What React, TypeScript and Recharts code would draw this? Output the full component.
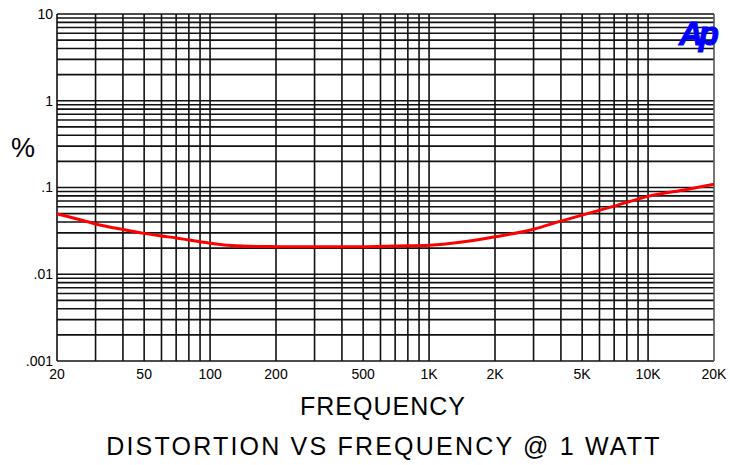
import { LineChart, Line, XAxis, YAxis, ReferenceLine } from "recharts";

// frequency (Hz) vs THD (%)
const freqs = [20, 25, 30, 40, 50, 60, 70, 80, 100, 120, 150, 200, 300, 500, 700, 1000, 1500, 2000, 3000, 4000, 5000, 7000, 10000, 15000, 20000];
const thd = [0.0495, 0.043, 0.038, 0.0328, 0.0296, 0.0276, 0.0262, 0.0248, 0.0228, 0.0216, 0.021, 0.0208, 0.0207, 0.0208, 0.0212, 0.0216, 0.024, 0.027, 0.033, 0.041, 0.048, 0.061, 0.079, 0.095, 0.109];

const xTicks = [20, 50, 100, 200, 500, 1000, 2000, 5000, 10000, 20000];
const xTickLabels = ["20", "50", "100", "200", "500", "1K", "2K", "5K", "10K", "20K"];
const yTicks = [0.001, 0.01, 0.1, 1, 10];
const yTickLabels = [".001", ".01", ".1", "1", "10"];

const xGrid = [20, 30, 40, 50, 60, 70, 80, 90, 100, 200, 300, 400, 500, 600, 700, 800, 900, 1000, 2000, 3000, 4000, 5000, 6000, 7000, 8000, 9000, 10000, 20000];
const yGrid = [
  0.001, 0.002, 0.003, 0.004, 0.005, 0.006, 0.007, 0.008, 0.009,
  0.01, 0.02, 0.03, 0.04, 0.05, 0.06, 0.07, 0.08, 0.09,
  0.1, 0.2, 0.3, 0.4, 0.5, 0.6, 0.7, 0.8, 0.9,
  1, 2, 3, 4, 5, 6, 7, 8, 9, 10,
];

const data = freqs.map((f, i) => ({ f, v: thd[i] }));

const font = '"Liberation Sans", Arial, sans-serif';

export default function App() {
  return (
    <div style={{ position: "absolute", left: 0, top: 0, width: 730, height: 465, background: "#fff", fontFamily: font }}>
      <LineChart width={730} height={465} data={data} margin={{ top: 14, right: 16, bottom: 74, left: 7 }}>
        <XAxis
          dataKey="f"
          type="number"
          scale="log"
          domain={[20, 20000]}
          ticks={xTicks}
          tickFormatter={(v) => xTickLabels[xTicks.indexOf(v)] ?? ""}
          axisLine={false}
          tickLine={false}
          tickSize={0}
          tickMargin={8}
          height={30}
          allowDataOverflow
          interval={0}
          tick={{ fill: "#000", fontSize: 14, fontFamily: font }}
        />
        <YAxis
          type="number"
          scale="log"
          domain={[0.001, 10]}
          ticks={yTicks}
          tickFormatter={(v) => yTickLabels[yTicks.indexOf(v)] ?? ""}
          axisLine={false}
          tickLine={false}
          tickSize={0}
          tickMargin={4}
          width={50}
          allowDataOverflow
          interval={0}
          tick={{ fill: "#000", fontSize: 14, fontFamily: font }}
        />
        {yGrid.map((y) => (
          <ReferenceLine key={"y" + y} y={y} stroke="#111" strokeWidth={1.6} />
        ))}
        {xGrid.map((x) => (
          <ReferenceLine key={"x" + x} x={x} stroke={x === 20000 ? "#555" : "#111"} strokeWidth={1.6} />
        ))}
        <Line
          type="monotone"
          dataKey="v"
          stroke="#ff0000"
          strokeWidth={3}
          dot={false}
          isAnimationActive={false}
        />
      </LineChart>
      <svg width={730} height={465} style={{ position: "absolute", left: 0, top: 0, pointerEvents: "none" }}>
        <text x={23} y={157} textAnchor="middle" fontSize={27} fontFamily={font} fill="#000">%</text>
        <text x={697} y={45} textAnchor="middle" fontSize={33} fontWeight="bold" fontStyle="italic" fontFamily={font} fill="#0000ff" stroke="#0000ff" strokeWidth={1} letterSpacing={-4}>Ap</text>
        <text x={383} y={415} textAnchor="middle" fontSize={25} fontFamily={font} fill="#000" letterSpacing={1}>FREQUENCY</text>
        <text x={384} y={455} textAnchor="middle" fontSize={25} fontFamily={font} fill="#000" letterSpacing={2.2}>DISTORTION VS FREQUENCY @ 1 WATT</text>
      </svg>
    </div>
  );
}
